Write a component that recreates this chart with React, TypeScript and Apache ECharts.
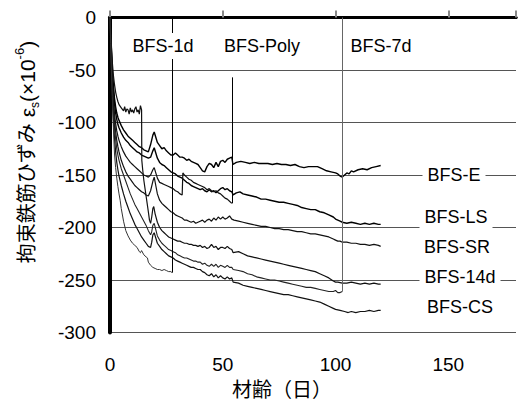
import React, { useEffect, useRef } from "react";
import * as echarts from "echarts";

const FONT = "'Liberation Sans', 'Noto Sans CJK JP', sans-serif";

const xTickLabels = ["0", "50", "100", "150"];
const yTickLabels = ["0", "-50", "-100", "-150", "-200", "-250", "-300"];

const serE: number[][] = [[0,0],[0.5,-25],[1,-48],[1.5,-65],[2,-77],[2.5,-85],[3,-91],[3.5,-95],[4,-98],[5,-103],[6,-107],[7,-110],[8,-113],[9,-115],[10,-117],[11,-119],[12,-121],[13,-123],[14,-124],[15,-126],[16,-127],[17,-128],[18,-121],[19,-112],[19.6,-109],[20.3,-114],[21,-119],[22,-122],[23,-125],[24,-124],[25,-127],[26,-129],[27,-131],[28,-131],[29,-129],[30,-131],[31,-133],[32,-133],[33,-134],[34,-136],[35,-135],[36,-137],[37,-138],[38,-139],[39,-140],[40,-143],[41,-146],[42,-147],[43,-142],[44,-139],[45,-140],[46,-143],[47,-138],[48,-142],[49,-137],[50,-136],[51,-138],[52,-135],[53,-134],[54,-133],[54.5,-140],[56,-138],[58,-137],[60,-138],[62,-139],[64,-138],[66,-139],[68,-139],[70,-139],[72,-140],[74,-139],[76,-140],[78,-140],[80,-141],[82,-140],[84,-142],[86,-143],[88,-142],[90,-142],[92,-142],[94,-144],[96,-146],[98,-147],[100,-148],[101,-149],[102,-151],[103,-152],[104,-150],[105,-148],[106,-149],[107,-146],[108,-147],[110,-145],[112,-144],[114,-145],[116,-143],[118,-142],[120,-141]];

const serLS: number[][] = [[0,0],[0.5,-28],[1,-52],[1.5,-70],[2,-82],[2.5,-91],[3,-97],[3.5,-102],[4,-105],[5,-110],[6,-114],[7,-117],[8,-119],[9,-122],[10,-124],[11,-126],[12,-128],[13,-129],[14,-131],[15,-132],[16,-133],[17,-134],[18,-133],[19,-127],[19.6,-124],[20.3,-129],[21,-134],[22,-138],[23,-140],[24,-141],[25,-143],[26,-145],[27,-147],[28,-148],[29,-149],[30,-151],[31,-152],[32,-153],[33,-155],[34,-157],[35,-158],[36,-160],[37,-161],[38,-162],[39,-163],[40,-164],[41,-163],[42,-165],[43,-166],[44,-164],[45,-166],[46,-165],[47,-167],[48,-165],[49,-163],[50,-162],[51,-164],[52,-163],[53,-165],[54,-166],[54.6,-169],[56,-167],[57.6,-166],[59,-168],[61,-169],[63,-170],[65,-171],[67,-173],[69,-173],[71,-174],[73,-175],[75,-176],[77,-176],[79,-177],[81,-178],[83,-179],[85,-181],[87,-182],[89,-183],[91,-183],[93,-185],[95,-186],[97,-188],[99,-190],[100,-192],[101,-193],[102,-194],[103,-195],[105,-196],[107,-195],[109,-196],[111,-197],[113,-196],[115,-197],[117,-196],[119,-197],[120,-197]];

const serPoly: number[][] = [[0,0],[0.5,-30],[1,-58],[1.5,-78],[2,-92],[2.5,-101],[3,-108],[3.5,-113],[4,-117],[5,-123],[6,-128],[7,-132],[8,-135],[9,-138],[10,-140],[11,-142],[12,-144],[13,-146],[14,-148],[15,-150],[16,-151],[17,-152],[18,-150],[19,-145],[19.6,-143],[20.3,-148],[21,-153],[22,-157],[23,-158],[24,-159],[25,-160],[26,-161],[27,-162],[28,-163],[29,-165],[30,-166],[31,-168],[32,-169],[32.3,-148],[33,-150],[34,-152],[35,-154],[36,-155],[37,-157],[38,-158],[39,-159],[40,-160],[41,-161],[42,-162],[43,-164],[44,-163],[45,-165],[46,-166],[47,-165],[48,-167],[49,-168],[50,-170],[51,-172],[52,-173],[53,-175],[54,-177]];

const serSR: number[][] = [[0,0],[0.5,-35],[1,-62],[1.5,-83],[2,-98],[2.5,-109],[3,-117],[3.5,-123],[4,-128],[5,-136],[6,-142],[7,-147],[8,-151],[9,-154],[10,-157],[11,-160],[12,-162],[13,-164],[14,-166],[15,-167],[16,-169],[17,-170],[18,-165],[19,-156],[19.6,-152],[20.3,-160],[21,-168],[22,-174],[23,-177],[24,-179],[25,-181],[26,-183],[27,-185],[28,-186],[29,-188],[30,-189],[31,-190],[32,-191],[33,-193],[34,-193],[35,-194],[36,-195],[37,-194],[38,-196],[39,-195],[40,-194],[41,-193],[42,-195],[43,-193],[44,-192],[45,-194],[46,-191],[47,-193],[48,-190],[49,-192],[50,-190],[51,-192],[52,-191],[53,-189],[54,-192],[55,-193],[57,-194],[59,-195],[61,-196],[63,-197],[65,-198],[67,-199],[69,-199],[71,-200],[73,-201],[75,-201],[77,-202],[79,-202],[81,-203],[83,-204],[85,-204],[87,-205],[89,-206],[91,-206],[93,-207],[95,-208],[97,-209],[99,-211],[100,-212],[101,-213],[102,-213],[103,-214],[105,-214],[107,-215],[109,-215],[111,-216],[113,-216],[115,-217],[117,-216],[119,-217],[120,-218]];

const ser14d: number[][] = [[0,0],[0.5,-22],[1,-42],[1.5,-55],[2,-64],[2.5,-71],[3,-76],[3.5,-80],[4,-83],[5,-86],[6,-89],[6.5,-85],[7,-90],[7.5,-87],[8,-88],[8.5,-92],[9,-86],[9.5,-90],[10,-88],[10.5,-91],[11,-87],[11.5,-85],[12,-90],[12.5,-88],[13,-92],[13.5,-84],[14,-88],[14.1,-136],[14.5,-145],[15,-155],[16,-170],[17,-185],[17.5,-193],[18,-196],[18.5,-190],[19,-182],[19.4,-180],[20,-187],[21,-195],[22,-200],[23,-203],[24,-205],[25,-207],[26,-209],[27,-210],[28,-211],[29,-212],[30,-213],[31,-213],[32,-214],[33,-215],[34,-215],[35,-216],[36,-216],[37,-217],[38,-217],[39,-218],[40,-217],[41,-219],[42,-218],[43,-220],[44,-219],[45,-216],[46,-219],[47,-218],[48,-221],[49,-219],[50,-219],[51,-220],[52,-218],[53,-220],[54,-221],[54.6,-224],[57,-223],[59,-225],[61,-227],[63,-228],[65,-229],[67,-230],[69,-231],[71,-232],[73,-233],[75,-234],[77,-235],[79,-236],[81,-237],[83,-238],[85,-239],[87,-240],[89,-241],[91,-242],[93,-244],[95,-246],[97,-248],[99,-251],[100,-252],[101,-252],[103,-253],[105,-253],[107,-252],[109,-253],[111,-254],[113,-253],[115,-254],[117,-253],[119,-254],[120,-254]];

const ser7d: number[][] = [[0,0],[0.5,-35],[1,-65],[1.5,-88],[2,-104],[2.5,-116],[3,-125],[3.5,-131],[4,-136],[5,-144],[6,-150],[7,-156],[8,-162],[9,-168],[10,-173],[11,-178],[12,-182],[13,-186],[14,-190],[15,-194],[16,-198],[17,-203],[18,-207],[18.5,-204],[19,-198],[19.6,-196],[20.3,-202],[21,-208],[22,-212],[23,-215],[24,-217],[25,-219],[26,-221],[27,-222],[28,-223],[29,-224],[30,-226],[31,-227],[32,-228],[33,-229],[34,-229],[35,-230],[36,-231],[37,-232],[38,-232],[39,-233],[40,-233],[41,-235],[42,-234],[43,-236],[44,-237],[45,-235],[46,-237],[47,-235],[48,-238],[49,-236],[50,-237],[51,-238],[52,-236],[53,-238],[54,-238],[54.6,-240],[57,-241],[59,-242],[61,-244],[63,-245],[65,-247],[67,-248],[69,-249],[71,-250],[73,-250],[75,-251],[77,-252],[79,-253],[81,-254],[83,-255],[85,-256],[87,-257],[89,-257],[91,-258],[93,-259],[95,-260],[97,-261],[99,-261],[100,-260],[101,-262],[102,-262],[103,-261]];

const serCS: number[][] = [[0,0],[0.5,-40],[1,-72],[1.5,-97],[2,-115],[2.5,-128],[3,-138],[3.5,-145],[4,-151],[5,-160],[6,-168],[7,-175],[8,-181],[9,-187],[10,-192],[11,-197],[12,-201],[13,-205],[14,-209],[15,-212],[16,-215],[17,-218],[18,-219],[18.5,-214],[19,-207],[19.6,-205],[20.3,-210],[21,-215],[22,-218],[23,-221],[24,-223],[25,-225],[26,-227],[27,-228],[28,-229],[29,-231],[30,-232],[31,-233],[32,-234],[33,-235],[34,-236],[35,-237],[36,-238],[37,-238],[38,-239],[39,-240],[40,-240],[41,-242],[42,-243],[43,-245],[44,-246],[45,-244],[46,-247],[47,-245],[48,-248],[49,-246],[50,-248],[51,-249],[52,-247],[53,-249],[54,-248],[54.6,-252],[57,-253],[59,-255],[61,-256],[63,-257],[65,-258],[67,-259],[69,-260],[71,-261],[73,-262],[75,-263],[77,-264],[79,-264],[81,-265],[83,-266],[85,-267],[87,-268],[89,-269],[91,-270],[93,-271],[95,-273],[97,-275],[99,-277],[100,-278],[102,-279],[104,-280],[105.6,-281],[107,-280],[109,-281],[111,-280],[113,-280],[115,-279],[117,-280],[119,-279],[120,-279]];

const ser1d: number[][] = [[0,0],[0.3,-25],[0.6,-50],[1,-75],[1.5,-105],[2,-130],[2.5,-143],[3,-153],[3.5,-161],[4,-168],[4.5,-174],[5,-182],[6,-194],[7,-203],[8,-208],[9,-212],[10,-215],[11,-217],[12,-219],[13,-223],[13.5,-224],[14,-222],[15,-226],[16,-228],[16.6,-229],[17,-233],[18,-236],[19,-238],[20,-239],[21,-240],[22,-240],[23,-241],[24,-240],[25,-241],[26,-242],[27,-242],[27.5,-243]];

// marker lines: [day, from value, to value]
const marker1d = [27.5, -243, 0];
const markerPoly = [54, -177, -57];
const marker7d = [103, -261, 0];

const rightLabels = ["BFS-E", "BFS-LS", "BFS-SR", "BFS-14d", "BFS-CS"];
const topLabels = ["BFS-1d", "BFS-Poly", "BFS-7d"];

export default function App() {
  const ref = useRef<HTMLDivElement>(null);
  useEffect(() => {
    if (!ref.current) return;
    const chart = echarts.init(ref.current, undefined, { renderer: "svg" });
    const mk = (m: number[], color: string) => ({
      symbol: ["none", "none"],
      silent: true,
      label: { show: false },
      lineStyle: { color, width: 1, type: "solid" },
      data: [[{ coord: [m[0], m[1]] }, { coord: [m[0], m[2]] }]],
    });
    const line = (name: string, data: number[][], color: string, width: number, markLine?: any) => ({
      name,
      type: "line",
      data,
      symbol: "none",
      lineStyle: { color, width },
      z: 3,
      ...(markLine ? { markLine } : {}),
    });
    const rightPos = [[454, 175], [456, 216.5], [457, 246.5], [460, 276.5], [460, 306.5]];
    const topPos = [[163, 46], [262, 46], [381, 46]];
    const labelText = (t: string, p: number[]) => ({
      type: "text",
      x: p[0],
      y: p[1],
      z: 100,
      style: {
        text: t,
        fill: "#000",
        fontSize: 18,
        fontFamily: FONT,
        align: "center",
        verticalAlign: "middle",
        backgroundColor: "#fff",
        padding: [4, 5],
      },
    });
    chart.setOption({
      animation: false,
      grid: { left: 110, top: 17.5, right: -3, height: 315 },
      xAxis: [
        {
          type: "value",
          min: 0,
          max: 180,
          interval: 50,
          axisLine: { show: true, lineStyle: { color: "#000", width: 3 } },
          axisTick: { show: true, inside: true, length: 7, lineStyle: { color: "#888", width: 2 } },
          axisLabel: {
            fontSize: 19,
            color: "#000",
            margin: 22,
            fontFamily: FONT,
            formatter: (v: number) => (xTickLabels.includes(String(v)) ? String(v) : ""),
          },
          splitLine: { show: false },
        },
        {
          type: "value",
          position: "top",
          min: 0,
          max: 180,
          axisLine: { show: true, lineStyle: { color: "#000", width: 3 } },
          axisTick: { show: false },
          axisLabel: { show: false },
          splitLine: { show: false },
        },
      ],
      yAxis: {
        type: "value",
        min: -300,
        max: 0,
        interval: 50,
        axisLine: { show: true, lineStyle: { color: "#000", width: 4 } },
        axisTick: { show: false },
        axisLabel: {
          fontSize: 19,
          color: "#000",
          margin: 14,
          fontFamily: FONT,
          formatter: (v: number) => (yTickLabels.includes(String(v)) ? String(v) : ""),
        },
        splitLine: { show: true, lineStyle: { color: "#555", width: 1 } },
      },
      graphic: [
        ...rightLabels.map((t, i) => labelText(t, rightPos[i])),
        ...topLabels.map((t, i) => labelText(t, topPos[i])),
        {
          type: "text",
          x: 282,
          y: 390,
          z: 100,
          style: {
            text: "材齢（日）",
            fill: "#000",
            fontSize: 20,
            fontFamily: FONT,
            align: "center",
            verticalAlign: "middle",
          },
        },
        {
          type: "text",
          x: 27,
          y: 152,
          rotation: Math.PI / 2,
          z: 100,
          style: {
            text: "{j|拘束鉄筋ひずみ}{a| ε}{s|s}{a|(×10}{p|-6}{a|)}",
            fill: "#000",
            fontFamily: FONT,
            align: "center",
            verticalAlign: "middle",
            rich: {
              j: { fontSize: 20, lineHeight: 28, fontFamily: FONT },
              a: { fontSize: 21, lineHeight: 28, fontFamily: FONT },
              s: { fontSize: 12, lineHeight: 28, verticalAlign: "bottom", fontFamily: FONT },
              p: { fontSize: 13, lineHeight: 28, verticalAlign: "top", fontFamily: FONT },
            },
          },
        },
      ],
      series: [
        line("BFS-E", serE, "#000", 1.4),
        line("BFS-LS", serLS, "#000", 1.4),
        line("BFS-Poly", serPoly, "#111", 1.2, mk(markerPoly, "#000")),
        line("BFS-SR", serSR, "#111", 1.2),
        line("BFS-14d", ser14d, "#111", 1.2),
        line("BFS-7d", ser7d, "#222", 1.1, mk(marker7d, "#666")),
        line("BFS-CS", serCS, "#111", 1.2),
        line("BFS-1d", ser1d, "#333", 1.0, mk(marker1d, "#000")),
      ],
    });
    return () => chart.dispose();
  }, []);
  return <div ref={ref} style={{ width: 519, height: 403, position: "absolute", left: 0, top: 0 }} />;
}
